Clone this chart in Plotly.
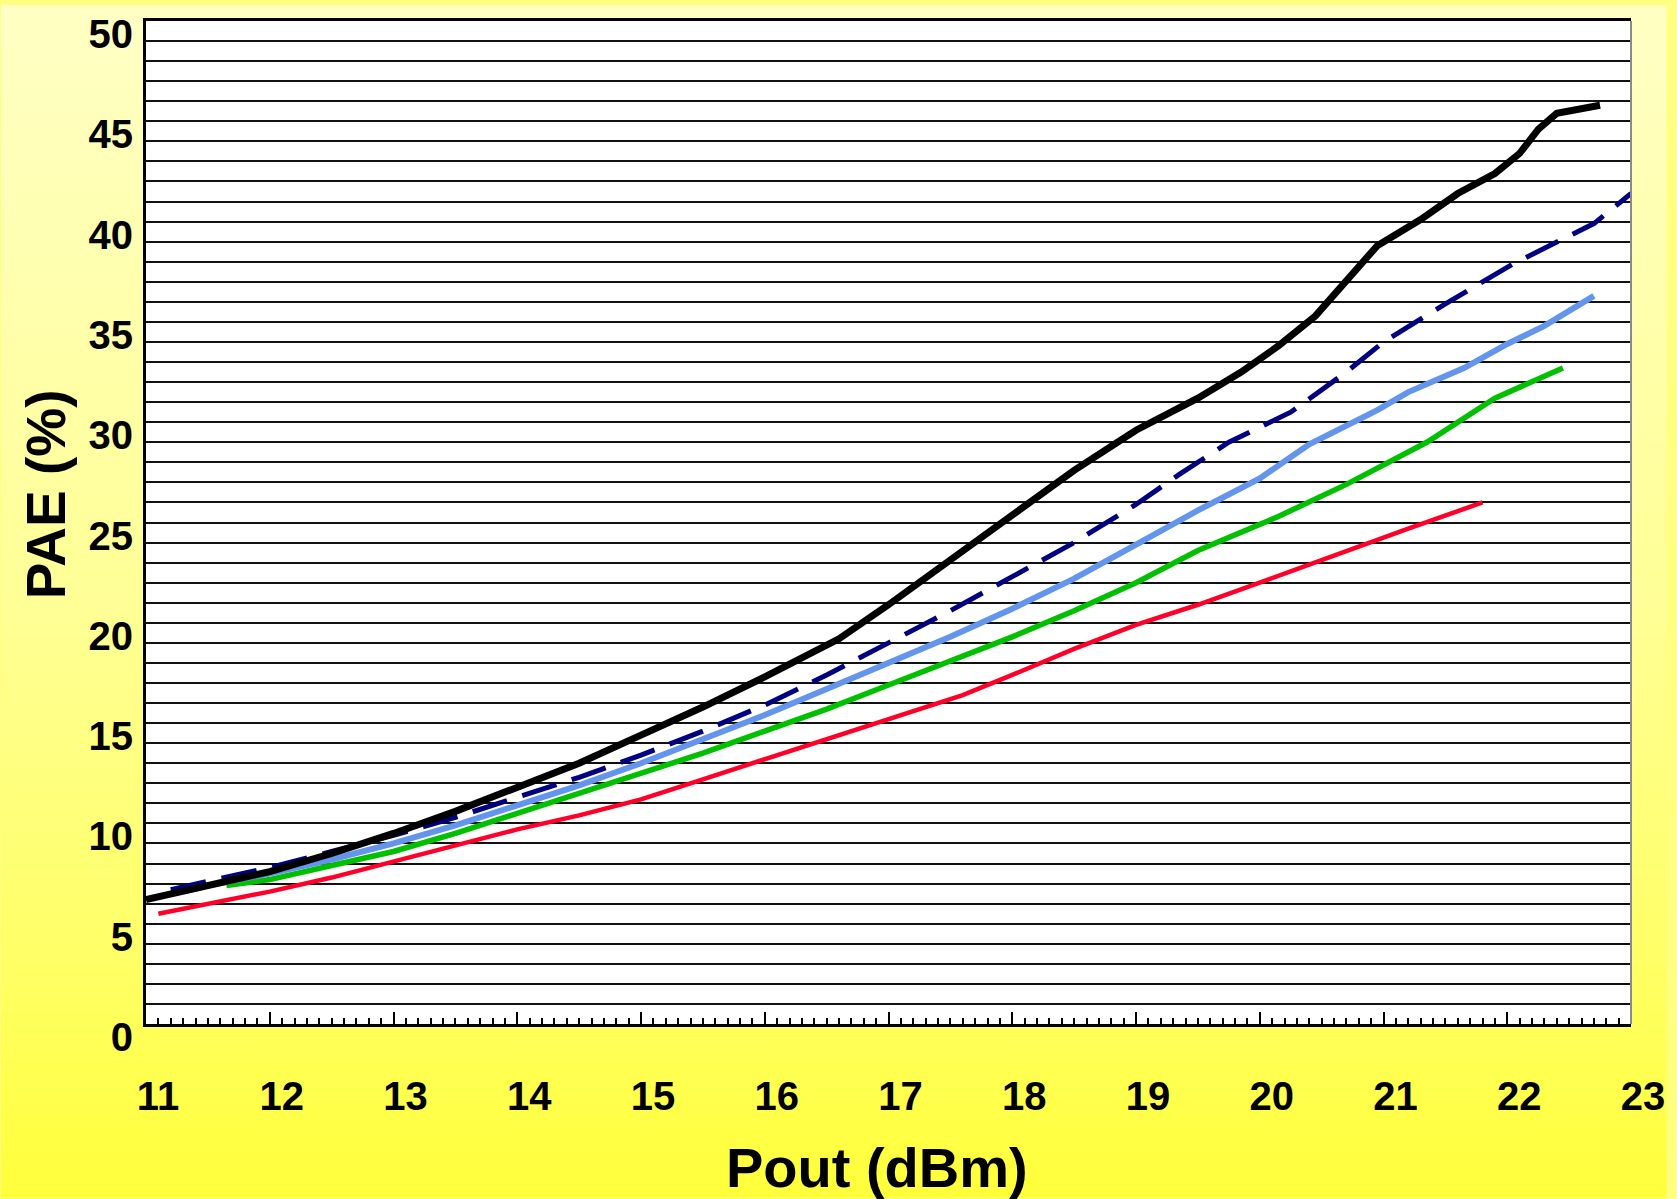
import base64
import plotly.graph_objects as go

# PAE vs output power, five bias/load conditions
black_x = [11.0, 11.5, 12.0, 12.5, 13.0, 13.5, 14.0, 14.5, 15.0, 15.5, 16.0, 16.6, 17.0, 17.5, 18.0,
           18.5, 19.0, 19.5, 19.85, 20.15, 20.45, 20.7, 20.95, 21.3, 21.6, 21.9, 22.1, 22.25, 22.4, 22.75]
black_y = [6.2, 6.9, 7.6, 8.5, 9.5, 10.6, 11.8, 13.0, 14.4, 15.8, 17.3, 19.2, 20.9, 23.1, 25.4,
           27.6, 29.6, 31.2, 32.5, 33.8, 35.3, 37.0, 38.8, 40.1, 41.4, 42.4, 43.4, 44.6, 45.4, 45.8]

navy_x = [11.2, 11.5, 12.0, 12.5, 13.0, 13.5, 14.0, 14.5, 15.0, 15.5, 16.0, 16.5, 17.0, 17.5, 18.0,
          18.5, 19.0, 19.35, 19.75, 20.25, 20.7, 21.0, 21.5, 22.05, 22.7, 23.0]
navy_y = [6.7, 7.1, 7.8, 8.6, 9.4, 10.3, 11.3, 12.3, 13.4, 14.6, 15.9, 17.4, 19.0, 20.6, 22.3,
          24.0, 25.9, 27.4, 29.0, 30.5, 32.5, 34.0, 35.9, 37.9, 39.9, 41.4]

blue_x = [11.3, 11.5, 12.0, 12.5, 13.0, 13.5, 14.0, 14.5, 15.0, 15.5, 16.0, 16.5, 17.0, 17.5, 18.0,
          18.5, 19.0, 19.5, 20.0, 20.4, 20.95, 21.2, 21.65, 22.0, 22.3, 22.7]
blue_y = [6.6, 6.9, 7.5, 8.2, 9.0, 9.9, 10.9, 11.9, 13.0, 14.2, 15.4, 16.7, 18.0, 19.3, 20.7,
          22.2, 23.9, 25.6, 27.2, 28.9, 30.6, 31.5, 32.7, 33.9, 34.8, 36.3]

green_x = [11.65, 12.0, 12.5, 13.0, 13.5, 14.0, 14.5, 15.0, 15.5, 16.0, 16.5, 17.0, 17.5, 18.0,
           18.5, 19.0, 19.5, 20.15, 20.7, 21.35, 21.9, 22.45]
green_y = [6.9, 7.2, 7.9, 8.6, 9.5, 10.5, 11.5, 12.5, 13.5, 14.6, 15.7, 16.9, 18.1, 19.3,
           20.6, 22.0, 23.6, 25.3, 26.9, 29.0, 31.2, 32.7]

red_x = [11.1, 11.5, 12.0, 12.5, 13.0, 13.5, 14.0, 14.5, 15.0, 15.5, 16.0, 16.5, 17.0, 17.6,
         18.0, 18.5, 19.0, 19.5, 20.0, 20.7, 21.2, 21.8]
red_y = [5.5, 6.0, 6.6, 7.3, 8.1, 8.9, 9.7, 10.4, 11.2, 12.2, 13.2, 14.2, 15.2, 16.4,
         17.4, 18.7, 19.9, 20.9, 22.0, 23.6, 24.7, 26.0]

x_ticks = list(range(11, 24))
y_ticks = list(range(0, 51, 5))

W, H = 1677, 1199
ML, MR, MT, MB = 146, 36, 16, 175
PW, PH = W - ML - MR, H - MT - MB

FONT = "Liberation Sans, Arial, sans-serif"

fig = go.Figure()
fig.add_trace(go.Scatter(x=red_x, y=red_y, mode="lines",
                         line=dict(color="#FF0028", width=4.5)))
fig.add_trace(go.Scatter(x=green_x, y=green_y, mode="lines",
                         line=dict(color="#00C000", width=5.5)))
fig.add_trace(go.Scatter(x=blue_x, y=blue_y, mode="lines",
                         line=dict(color="#6495ED", width=6)))
fig.add_trace(go.Scatter(x=navy_x, y=navy_y, mode="lines",
                         line=dict(color="#000080", width=5, dash="36px,16px")))
fig.add_trace(go.Scatter(x=black_x, y=black_y, mode="lines",
                         line=dict(color="#000000", width=7)))

# pale-to-bright yellow page gradient
svg = (
    '<svg xmlns="http://www.w3.org/2000/svg" width="100" height="100" '
    'viewBox="0 0 100 100" preserveAspectRatio="none">'
    '<defs><linearGradient id="g" x1="0" y1="0" x2="0" y2="1">'
    '<stop offset="0" stop-color="#FFFFC4"/>'
    '<stop offset="0.5" stop-color="#FFFF96"/>'
    '<stop offset="0.8" stop-color="#FFFF66"/>'
    '<stop offset="1" stop-color="#FFFF3A"/>'
    '</linearGradient></defs>'
    '<rect x="0" y="0" width="100" height="100" fill="url(#g)"/></svg>'
)
svg_uri = "data:image/svg+xml;base64," + base64.b64encode(svg.encode()).decode()

fig.add_layout_image(dict(
    source=svg_uri, xref="paper", yref="paper",
    x=-ML / PW, y=1 + MT / PH, sizex=W / PW, sizey=H / PH,
    xanchor="left", yanchor="top", sizing="stretch", layer="below",
))

fig.add_shape(type="rect", xref="paper", yref="paper", x0=0, x1=1, y0=0, y1=1,
              fillcolor="white", line=dict(width=0), layer="below")
fig.add_shape(type="line", xref="paper", yref="paper", x0=1, x1=1, y0=0, y1=1,
              line=dict(color="#8a8a8a", width=2), layer="above")

tick_font = dict(family=FONT, size=40, color="black", weight="bold")

fig.update_layout(
    width=W, height=H,
    margin=dict(l=ML, r=MR, t=MT, b=MB),
    paper_bgcolor="#FFFF80",
    plot_bgcolor="white",
    showlegend=False,
    xaxis=dict(
        range=[11, 23], tickvals=x_ticks, ticktext=[str(v) for v in x_ticks],
        showgrid=False, zeroline=False,
        showline=True, linecolor="black", linewidth=3, mirror=True,
        ticks="inside", ticklen=12, tickwidth=2, tickcolor="black",
        minor=dict(dtick=0.1, ticks="inside", ticklen=6, tickwidth=1.5, tickcolor="black"),
        tickfont=tick_font, ticklabelshift=12, ticklabelstandoff=35,
        ticklabeloverflow="allow",
    ),
    yaxis=dict(
        range=[0, 50], tickvals=y_ticks, ticktext=[str(v) for v in y_ticks],
        showgrid=True, gridcolor="#111111", gridwidth=2, zeroline=False,
        showline=True, linecolor="black", linewidth=3,
        ticks="",
        minor=dict(dtick=1, showgrid=True, gridcolor="#111111", gridwidth=2),
        tickfont=tick_font, ticklabelshift=13, ticklabelstandoff=2,
        ticklabeloverflow="allow",
    ),
    annotations=[
        dict(text="Pout (dBm)", xref="paper", yref="paper",
             x=(882 - ML) / PW, y=-(1168 - (MT + PH)) / PH,
             xanchor="center", yanchor="middle", showarrow=False,
             font=dict(family=FONT, size=56, color="black", weight="bold")),
        dict(text="PAE (%)", xref="paper", yref="paper",
             x=(45 - ML) / PW, y=(MT + PH - 492) / PH,
             xanchor="center", yanchor="middle", textangle=-90, showarrow=False,
             font=dict(family=FONT, size=55, color="black", weight="bold")),
    ],
)

fig.write_html("out.html")
